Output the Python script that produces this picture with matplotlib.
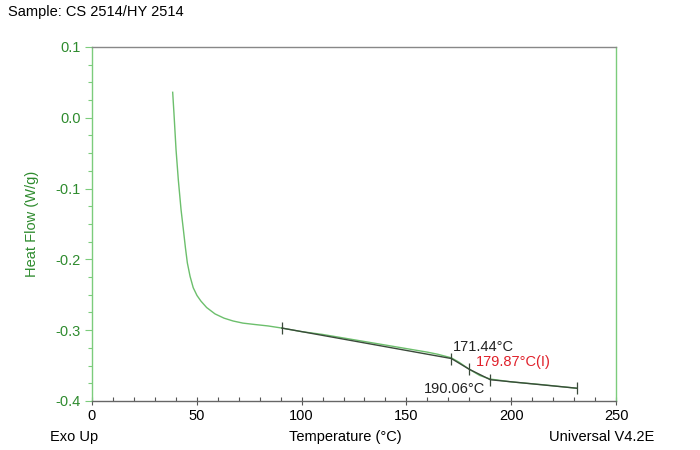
import matplotlib
matplotlib.use("Agg")
import matplotlib.pyplot as plt
from matplotlib.ticker import MultipleLocator

plt.rcParams['font.family'] = ['Liberation Sans', 'DejaVu Sans']

# DSC heat flow curve
temp = [38.5, 39.1, 40.1, 41.2, 42.5, 43.6, 44.6, 45.5, 46.8, 48.3, 50.1, 52.0,
        54.7, 58.7, 63.0, 67.3, 72.0, 77.8, 84.0, 90.6, 100, 110, 120, 130,
        140, 150, 160, 165, 171.4, 175, 179.9, 185, 190, 195, 200, 215, 231.4]
heat_flow = [0.036, 0.007, -0.045, -0.088, -0.130, -0.158, -0.184, -0.205, -0.224,
             -0.240, -0.251, -0.259, -0.268, -0.277, -0.283, -0.287, -0.290,
             -0.292, -0.294, -0.297, -0.302, -0.306, -0.311, -0.316, -0.321,
             -0.326, -0.331, -0.334, -0.339, -0.345, -0.355, -0.364, -0.369,
             -0.371, -0.373, -0.377, -0.382]

# analysis (tangent) points
ana_t = [90.6, 171.44, 179.87, 190.06, 231.4]
ana_y = [-0.297, -0.340, -0.355, -0.370, -0.382]
ana_labels = ["171.44°C", "179.87°C(I)", "190.06°C"]

fig = plt.figure(figsize=(7, 4.5), dpi=100)
ax = fig.add_axes([0.1314, 0.1089, 0.7486, 0.7867])

green = "#2e8b2e"
ax.plot(temp, heat_flow, color="#6cbf6c", lw=1.0, zorder=2)
ax.plot(ana_t, ana_y, color="#3a4a3a", lw=1.0, zorder=3)
ax.plot(ana_t, ana_y, ls="none", marker="|", ms=9, mew=0.9, color="#3a4a3a", zorder=4)

ax.text(172.0, -0.324, ana_labels[0], color="#222222", fontsize=10.5, ha="left", va="center")
ax.text(183.0, -0.3455, ana_labels[1], color="#e0202a", fontsize=10.5, ha="left", va="center")
ax.text(187.5, -0.383, ana_labels[2], color="#222222", fontsize=10.5, ha="right", va="center")

ax.set_xlim(0, 250)
ax.set_ylim(-0.4, 0.1)
ax.xaxis.set_major_locator(MultipleLocator(50))
ax.xaxis.set_minor_locator(MultipleLocator(10))
ax.yaxis.set_major_locator(MultipleLocator(0.1))
ax.yaxis.set_minor_locator(MultipleLocator(0.025))
ax.yaxis.set_major_formatter(plt.FuncFormatter(lambda v, p: f"{v:.1f}"))

ax.tick_params(axis="x", which="major", direction="inout", length=6, width=0.8,
               color="#555555", labelsize=10.5, pad=3)
ax.tick_params(axis="x", which="minor", direction="in", length=3, width=0.8, color="#555555")
ax.tick_params(axis="y", which="major", direction="out", length=5, width=0.8,
               color="#7ccc7c", labelcolor=green, labelsize=10.5, pad=3)
ax.tick_params(axis="y", which="minor", direction="out", length=3, width=0.8, color="#7ccc7c")

ax.spines["left"].set_color("#7ccc7c")
ax.spines["right"].set_color("#7ccc7c")
ax.spines["top"].set_color("#888888")
ax.spines["bottom"].set_color("#666666")
for s in ax.spines.values():
    s.set_linewidth(1.0)

ax.set_ylabel("Heat Flow (W/g)", color=green, fontsize=10.5, labelpad=12)

fig.text(0.011, 0.973, "Sample: CS 2514/HY 2514", fontsize=10.5, ha="left", va="center")
fig.text(0.071, 0.029, "Exo Up", fontsize=10.5, ha="left", va="center")
fig.text(0.493, 0.029, "Temperature (°C)", fontsize=10.5, ha="center", va="center")
fig.text(0.935, 0.029, "Universal V4.2E", fontsize=10.5, ha="right", va="center")

fig.savefig("out.png", dpi=100)
